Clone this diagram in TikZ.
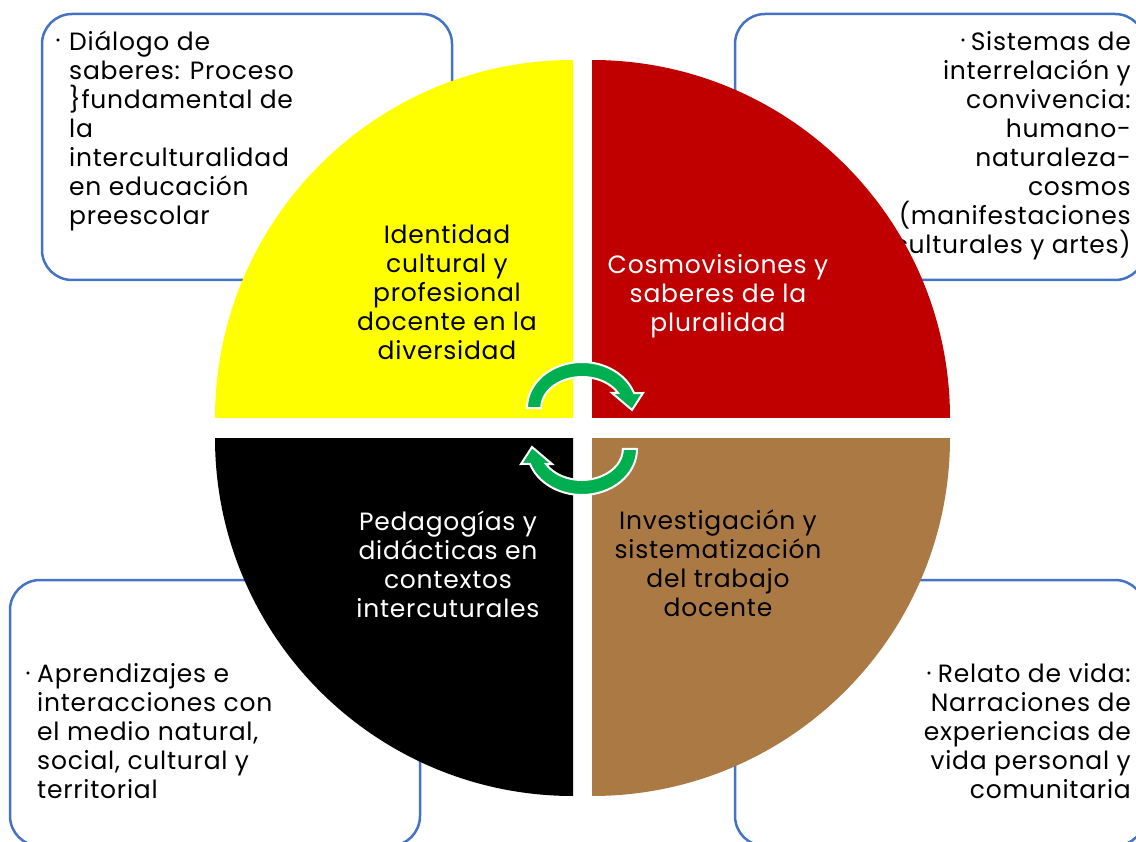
\documentclass[tikz,border=0pt]{standalone}
\usepackage{fontspec}
\setmainfont{Poppins}[LetterSpace=3.0]
\newlength{\du}
\setlength{\du}{1pt}
\definecolor{boxline}{rgb}{0.266667, 0.447059, 0.768627}
\definecolor{quadyellow}{rgb}{1.000000, 1.000000, 0.000000}
\definecolor{quadred}{rgb}{0.752941, 0.000000, 0.000000}
\definecolor{quadbrown}{rgb}{0.670588, 0.478431, 0.266667}
\definecolor{arrowgreen}{rgb}{0.000000, 0.690196, 0.313725}
\tikzset{
  notebox/.style={draw=boxline, line width=2.5\du, fill=white, rounded corners=30\du},
  notetext/.style={inner sep=0pt, font=\fontsize{25}{29}\selectfont},
  quadtext/.style={inner sep=0pt, align=center, anchor=north, font=\fontsize{25}{29}\selectfont},
  bulletmark/.style={inner sep=0pt, font=\fontsize{12}{12}\selectfont},
  turnarrow/.style={fill=arrowgreen, draw=white, line width=2\du},
}

\begin{document}
\begin{tikzpicture}
\pgftransformxscale{1.000000}
\pgftransformyscale{-1.000000}
\useasboundingbox (0\du,0\du) rectangle (1136\du,842\du);
\clip (0\du,0\du) rectangle (1136\du,842\du);
% boxes behind the circle
\draw[notebox] (42\du,14\du) rectangle (452\du,280\du);
\draw[notebox] (735\du,14\du) rectangle (1145\du,280\du);
\draw[notebox] (10\du,580\du) rectangle (420\du,846\du);
\draw[notebox] (735\du,580\du) rectangle (1145\du,846\du);
% box texts
\node[bulletmark] (bull1) at (58\du,42\du){\textbullet};
\node[notetext, align=left, anchor=north west] (dialogo) at (69\du,29.7\du){\strut Diálogo de\\saberes: Proceso\\\}fundamental de\\la\\interculturalidad\\en educación\\preescolar};
\node[bulletmark] (bull2) at (963\du,42\du){\textbullet};
\node[notetext, align=right, anchor=north east] (sistemas) at (1131\du,29.7\du){\strut Sistemas de\\interrelación y\\convivencia:\\humano-\\naturaleza-\\cosmos\\(manifestaciones\\culturales y artes)};
\node[bulletmark] (bull3) at (28\du,675\du){\textbullet};
\node[notetext, align=left, anchor=north west] (aprendizajes) at (37\du,661.7\du){\strut Aprendizajes e\\interacciones con\\el medio natural,\\social, cultural y\\territorial};
\node[bulletmark] (bull4) at (929\du,675\du){\textbullet};
\node[notetext, align=right, anchor=north east] (relato) at (1131\du,661.7\du){\strut Relato de vida:\\Narraciones de\\experiencias de\\vida personal y\\comunitaria};
% the four quarters
\fill[quadyellow] (573\du,418\du) -- (215\du,418\du) arc[start angle=180, end angle=270, radius=358\du] -- cycle;
\fill[quadred] (592\du,418\du) -- (592\du,60\du) arc[start angle=270, end angle=360, radius=358\du] -- cycle;
\fill[black] (573\du,438\du) -- (573\du,796\du) arc[start angle=90, end angle=180, radius=358\du] -- cycle;
\fill[quadbrown] (592\du,438\du) -- (950\du,438\du) arc[start angle=0, end angle=90, radius=358\du] -- cycle;
\node[quadtext, text=black] (identidad) at (447\du,222.7\du){\strut Identidad\\cultural y\\profesional\\docente en la\\diversidad};
\node[quadtext, text=white] (cosmovisiones) at (718\du,252.7\du){\strut Cosmovisiones y\\saberes de la\\pluralidad};
\node[quadtext, text=white] (pedagogias) at (448\du,509.7\du){\strut Pedagogías y\\didácticas en\\contextos\\intercuturales};
\node[quadtext, text=black] (investigacion) at (718\du,508.7\du){\strut Investigación y\\sistematización\\del trabajo\\docente};
% turning arrows
\filldraw[turnarrow] (527\du,408\du) arc[start angle=180, end angle=341, x radius=55\du, y radius=46\du] -- (643\du,393\du) -- (632\du,410\du) -- (612\du,393\du) -- (618\du,393\du) arc[start angle=331, end angle=180, x radius=41\du, y radius=31\du] -- cycle;
\filldraw[turnarrow] (637\du,449\du) arc[start angle=0, end angle=161, x radius=55\du, y radius=46\du] -- (521\du,464\du) -- (532\du,447\du) -- (552\du,464\du) -- (546\du,464\du) arc[start angle=151, end angle=0, x radius=41\du, y radius=31\du] -- cycle;
\end{tikzpicture}
\end{document}
